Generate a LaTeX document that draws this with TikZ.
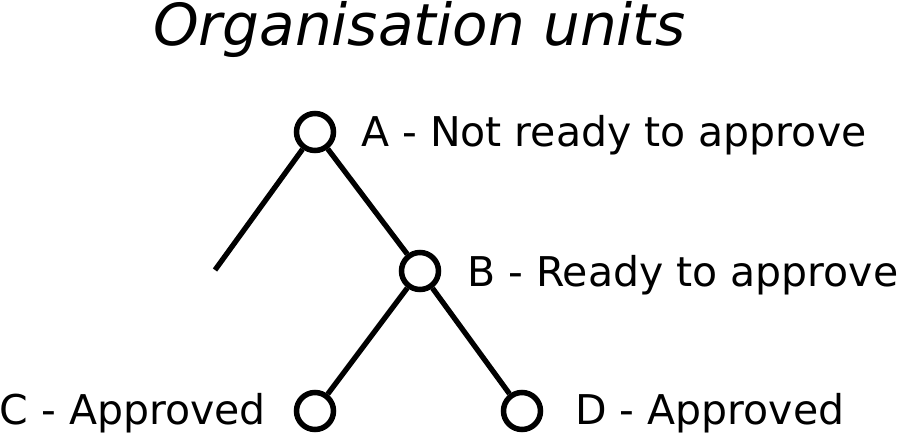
\documentclass[tikz,border=0pt]{standalone}
\usepackage{fontspec}
\setmainfont{DejaVu Sans}
\begin{document}
\begin{tikzpicture}[x=1pt,y=-1pt,
  unit/.style={circle,draw=black,line width=5.5pt,minimum size=37pt,inner sep=0pt,fill=white},
  lbl/.style={inner sep=0pt,font=\fontsize{41}{41}\selectfont},
  branch/.style={line width=5.3pt,draw=black}]
\useasboundingbox (0,0) rectangle (900,434);
\node[inner sep=0pt,anchor=base west,font=\fontsize{58}{58}\selectfont\itshape] (title) at (153,45) {Organisation units};
\node[unit] (A) at (315,132) {};
\node[unit] (B) at (420,271) {};
\node[unit] (C) at (315,411) {};
\node[unit] (D) at (522,411) {};
\coordinate (E) at (215,270);
\draw[branch] (A) -- (B);
\draw[branch] (A) -- (E);
\draw[branch] (B) -- (C);
\draw[branch] (B) -- (D);
\node[lbl,anchor=base west] (la) at (361,146) {A - Not ready to approve};
\node[lbl,anchor=base west] (lb) at (467,286) {B - Ready to approve};
\node[lbl,anchor=base east] (lc) at (266,424) {C - Approved};
\node[lbl,anchor=base west] (ld) at (575,424) {D - Approved};
\end{tikzpicture}
\end{document}
